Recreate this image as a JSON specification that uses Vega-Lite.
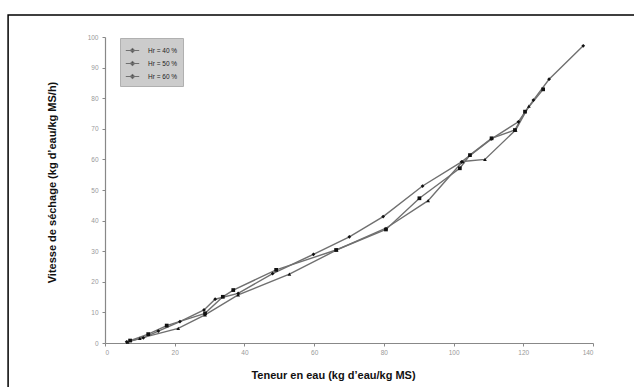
{
  "$schema": "https://vega.github.io/schema/vega-lite/v6.json",
  "width": 488,
  "height": 306,
  "autosize": {"type": "none"},
  "padding": {"left": 105, "top": 37, "right": 41, "bottom": 44},
  "background": "white",
  "config": {
    "view": {"stroke": null},
    "font": "Liberation Sans",
    "axis": {
      "grid": false,
      "domainColor": "#888888",
      "domainWidth": 1.2,
      "tickColor": "#888888",
      "tickSize": 3,
      "labelColor": "#999999",
      "labelFontSize": 6.5,
      "labelOverlap": false,
      "titleFontSize": 11,
      "titleFontWeight": "bold",
      "titleColor": "#111111"
    }
  },
  "datasets": {
    "sechage": [
      {"hr": "Hr = 40 %", "teneur": 6.2, "vitesse": 0.4},
      {"hr": "Hr = 40 %", "teneur": 11.0, "vitesse": 1.7},
      {"hr": "Hr = 40 %", "teneur": 15.3, "vitesse": 3.9},
      {"hr": "Hr = 40 %", "teneur": 21.5, "vitesse": 7.0},
      {"hr": "Hr = 40 %", "teneur": 28.4, "vitesse": 10.8},
      {"hr": "Hr = 40 %", "teneur": 31.6, "vitesse": 14.3},
      {"hr": "Hr = 40 %", "teneur": 38.2, "vitesse": 16.2},
      {"hr": "Hr = 40 %", "teneur": 48.1, "vitesse": 22.7},
      {"hr": "Hr = 40 %", "teneur": 59.8, "vitesse": 29.0},
      {"hr": "Hr = 40 %", "teneur": 70.1, "vitesse": 34.7},
      {"hr": "Hr = 40 %", "teneur": 79.8, "vitesse": 41.3},
      {"hr": "Hr = 40 %", "teneur": 91.1, "vitesse": 51.3},
      {"hr": "Hr = 40 %", "teneur": 102.3, "vitesse": 59.2},
      {"hr": "Hr = 40 %", "teneur": 110.9, "vitesse": 66.7},
      {"hr": "Hr = 40 %", "teneur": 118.6, "vitesse": 72.3},
      {"hr": "Hr = 40 %", "teneur": 122.9, "vitesse": 79.4},
      {"hr": "Hr = 40 %", "teneur": 127.4, "vitesse": 86.2},
      {"hr": "Hr = 40 %", "teneur": 137.2, "vitesse": 97.1},

      {"hr": "Hr = 50 %", "teneur": 7.2, "vitesse": 0.8},
      {"hr": "Hr = 50 %", "teneur": 12.4, "vitesse": 2.9},
      {"hr": "Hr = 50 %", "teneur": 17.7, "vitesse": 5.7},
      {"hr": "Hr = 50 %", "teneur": 28.7, "vitesse": 9.7},
      {"hr": "Hr = 50 %", "teneur": 33.8, "vitesse": 15.1},
      {"hr": "Hr = 50 %", "teneur": 36.8, "vitesse": 17.3},
      {"hr": "Hr = 50 %", "teneur": 49.1, "vitesse": 23.9},
      {"hr": "Hr = 50 %", "teneur": 66.3, "vitesse": 30.4},
      {"hr": "Hr = 50 %", "teneur": 80.6, "vitesse": 37.1},
      {"hr": "Hr = 50 %", "teneur": 90.2, "vitesse": 47.3},
      {"hr": "Hr = 50 %", "teneur": 101.8, "vitesse": 57.1},
      {"hr": "Hr = 50 %", "teneur": 104.7, "vitesse": 61.4},
      {"hr": "Hr = 50 %", "teneur": 110.9, "vitesse": 66.9},
      {"hr": "Hr = 50 %", "teneur": 117.6, "vitesse": 69.6},
      {"hr": "Hr = 50 %", "teneur": 120.5, "vitesse": 75.6},
      {"hr": "Hr = 50 %", "teneur": 125.7, "vitesse": 82.9},

      {"hr": "Hr = 60 %", "teneur": 6.5, "vitesse": 0.3},
      {"hr": "Hr = 60 %", "teneur": 10.0, "vitesse": 1.5},
      {"hr": "Hr = 60 %", "teneur": 21.0, "vitesse": 4.8},
      {"hr": "Hr = 60 %", "teneur": 28.7, "vitesse": 9.2},
      {"hr": "Hr = 60 %", "teneur": 38.2, "vitesse": 15.7},
      {"hr": "Hr = 60 %", "teneur": 52.9, "vitesse": 22.5},
      {"hr": "Hr = 60 %", "teneur": 66.5, "vitesse": 30.4},
      {"hr": "Hr = 60 %", "teneur": 80.6, "vitesse": 37.5},
      {"hr": "Hr = 60 %", "teneur": 92.7, "vitesse": 46.5},
      {"hr": "Hr = 60 %", "teneur": 102.6, "vitesse": 59.3},
      {"hr": "Hr = 60 %", "teneur": 109.0, "vitesse": 60.0},
      {"hr": "Hr = 60 %", "teneur": 117.8, "vitesse": 69.6},
      {"hr": "Hr = 60 %", "teneur": 121.6, "vitesse": 77.4}
    ]
  },
  "layer": [
    {
      "data": {"name": "sechage"},
      "mark": {"type": "line", "strokeWidth": 1.4, "clip": false},
      "encoding": {
        "x": {
          "field": "teneur", "type": "quantitative",
          "scale": {"domain": [0, 140], "nice": false},
          "axis": {"tickCount": 7, "labelOverlap": false, "title": "Teneur en eau (kg d’eau/kg MS)", "titleX": 228, "titlePadding": 14, "labelPadding": 3}
        },
        "y": {
          "field": "vitesse", "type": "quantitative",
          "scale": {"domain": [0, 100], "nice": false},
          "axis": {"tickCount": 10, "labelOverlap": false, "labelBound": false, "title": "Vitesse de séchage (kg d’eau/kg MS/h)", "titleY": 145, "titlePadding": 30, "labelPadding": 4}
        },
        "order": {"field": "teneur", "type": "quantitative"},
        "color": {
          "field": "hr", "type": "nominal",
          "scale": {"range": ["#707070", "#707070", "#707070"]},
          "legend": {
            "title": null,
            "orient": "none",
            "legendX": 15,
            "legendY": 1,
            "fillColor": "#cccccc",
            "strokeColor": "#b0b0b0",
            "padding": 5,
            "rowPadding": 1,
            "labelFontSize": 6.5,
            "labelColor": "#222222",
            "labelOffset": 8,
            "symbolType": "M-1,0L1,0M-0.3,0L0,-0.3L0.3,0L0,0.3Z",
            "symbolSize": 180,
            "symbolStrokeColor": "#222222",
            "symbolFillColor": "#111111",
            "symbolStrokeWidth": 1.2
          }
        }
      }
    },
    {
      "data": {"name": "sechage"},
      "mark": {"type": "point", "filled": true, "color": "#111111", "size": 14, "opacity": 1, "clip": false},
      "encoding": {
        "x": {"field": "teneur", "type": "quantitative"},
        "y": {"field": "vitesse", "type": "quantitative"},
        "shape": {
          "field": "hr", "type": "nominal",
          "scale": {"range": ["diamond", "square", "triangle-up"]},
          "legend": null
        }
      }
    },
    {
      "description": "Outer frame around the figure",
      "data": {"values": [{}]},
      "mark": {"type": "rect", "fill": null, "stroke": "#000000", "strokeWidth": 1.5, "clip": false},
      "encoding": {
        "x": {"datum": -27.8, "type": "quantitative"},
        "x2": {"datum": 300},
        "y": {"datum": 107.2, "type": "quantitative"},
        "y2": {"datum": -60}
      }
    }
  ]
}
